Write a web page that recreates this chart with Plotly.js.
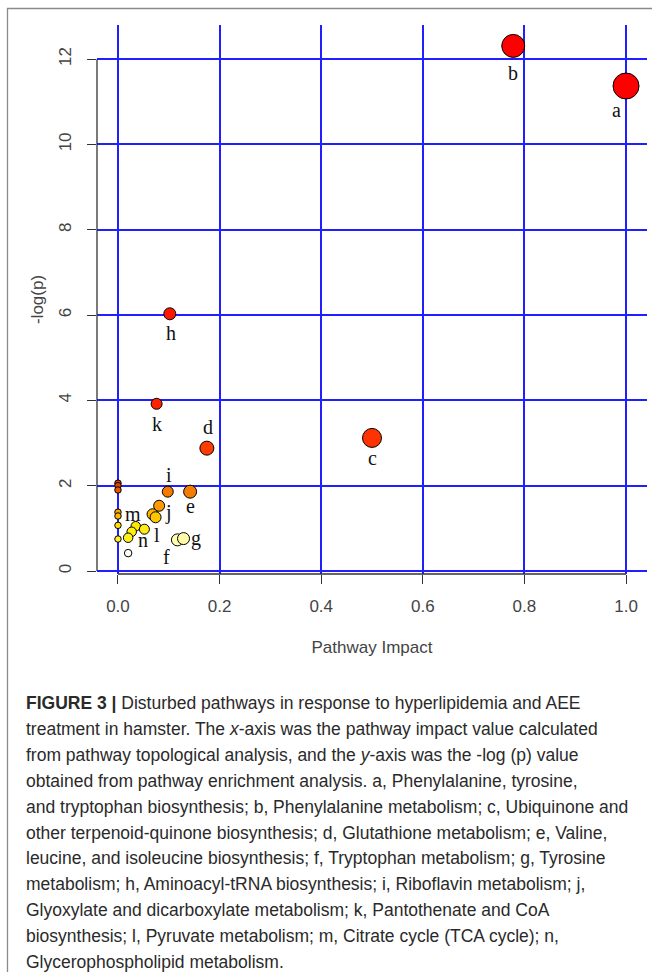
<!DOCTYPE html>
<html>
<head>
<meta charset="utf-8">
<script src="https://cdn.plot.ly/plotly-3.0.1.min.js"></script>
<style>
html, body { margin: 0; padding: 0; background: #ffffff; }
#chart { width: 652px; height: 972px; }
</style>
</head>
<body>
<div id="chart"></div>
<script>
// ---- data ----
const pathwayImpact = [1.000, 0.778, 0.102, 0.076, 0.500, 0.175, 0.000, 0.000, 0.000, 0.098, 0.142, 0.081, 0.000, 0.000, 0.068, 0.074, 0.000, 0.035, 0.052, 0.027, 0.020, 0.000, 0.117, 0.129, 0.020];
const negLogP      = [11.37, 12.31, 6.03, 3.92, 3.12, 2.88, 2.06, 2.00, 1.90, 1.86, 1.86, 1.53, 1.38, 1.29, 1.33, 1.26, 1.07, 1.05, 0.98, 0.92, 0.78, 0.75, 0.73, 0.76, 0.42];
const pointLabels  = ['a', 'b', 'h', 'k', 'c', 'd', '', '', '', 'i', 'e', 'j', 'm', '', '', 'l', '', '', 'n', '', '', '', 'f', 'g', ''];

const xTickVals = [0, 0.2, 0.4, 0.6, 0.8, 1.0];
const xTickText = ['0.0', '0.2', '0.4', '0.6', '0.8', '1.0'];
const yTickVals = [0, 2, 4, 6, 8, 10, 12];
const yTickText = ['0', '2', '4', '6', '8', '10', '12'];

const xTitle = 'Pathway Impact';
const yTitle = '-log(p)';

const captionLines = [
  '<b>FIGURE 3 |</b> Disturbed pathways in response to hyperlipidemia and AEE',
  'treatment in hamster. The <i>x</i>-axis was the pathway impact value calculated',
  'from pathway topological analysis, and the <i>y</i>-axis was the -log (p) value',
  'obtained from pathway enrichment analysis. a, Phenylalanine, tyrosine,',
  'and tryptophan biosynthesis; b, Phenylalanine metabolism; c, Ubiquinone and',
  'other terpenoid-quinone biosynthesis; d, Glutathione metabolism; e, Valine,',
  'leucine, and isoleucine biosynthesis; f, Tryptophan metabolism; g, Tyrosine',
  'metabolism; h, Aminoacyl-tRNA biosynthesis; i, Riboflavin metabolism; j,',
  'Glyoxylate and dicarboxylate metabolism; k, Pantothenate and CoA',
  'biosynthesis; l, Pyruvate metabolism; m, Citrate cycle (TCA cycle); n,',
  'Glycerophospholipid metabolism.'
];

// ---- styles ----
const markerSizes  = [26, 23, 12, 11, 19, 14, 6.5, 6.5, 6.5, 11, 13, 11, 6.5, 6.5, 11, 11, 6.5, 9.5, 10, 9.5, 9.5, 6.5, 12, 12, 7.5];
const markerColors = ['#ff0000', '#ff0000', '#ff1800', '#ff2200', '#ff3300', '#ff3c00', '#d84200', '#e04a00', '#e85400', '#f47a00', '#f47c00', '#ff9a00',
                      '#f8a800', '#ffb800', '#ffb400', '#ffc600', '#ffe000', '#ffe800', '#ffec10', '#ffee10', '#fff020', '#fff030', '#ffffb0', '#fffaa8', '#fffff2'];
const labelShift = {
  a: [-10, -24], b: [0, -27], c: [0, -20], d: [1, 21], e: [0, -14], h: [1, -19],
  i: [1, 17], j: [9, -7], k: [0, -20], l: [1, -18], m: [15, -2], n: [-1, -11],
  f: [-11, -17], g: [12, 0]
};

// plot frame in pixels
const W = 652, H = 972;
const plotL = 97, plotR = 647, plotT = 25, plotB = 574;
const pw = plotR - plotL, ph = plotB - plotT;
const px2paperX = p => (p - plotL) / pw;
const px2paperY = p => (plotB - p) / ph;

const trace = {
  type: 'scatter',
  mode: 'markers',
  x: pathwayImpact,
  y: negLogP,
  marker: {
    size: markerSizes,
    color: markerColors,
    line: { color: '#000000', width: 1 },
    opacity: 1
  },
  hoverinfo: 'x+y',
  showlegend: false,
  cliponaxis: false
};

const annotations = [];
pointLabels.forEach((lab, i) => {
  if (!lab) return;
  const s = labelShift[lab] || [0, 0];
  annotations.push({
    x: pathwayImpact[i], y: negLogP[i], xref: 'x', yref: 'y',
    text: lab, showarrow: false, xanchor: 'center', yanchor: 'middle',
    xshift: s[0], yshift: s[1],
    font: { family: 'Liberation Serif, Times New Roman, serif', size: 20, color: '#111111' }
  });
});

const capTop = 703, capStep = 25.9;
captionLines.forEach((line, i) => {
  annotations.push({
    x: px2paperX(24), y: px2paperY(capTop + i * capStep), xref: 'paper', yref: 'paper',
    text: line, showarrow: false, xanchor: 'left', yanchor: 'middle', align: 'left',
    font: { family: 'Liberation Sans, Arial, sans-serif', size: 17.5, color: '#2a2a2a' }
  });
});

const shapes = [
  // outer figure frame
  { type: 'rect', xref: 'paper', yref: 'paper',
    x0: px2paperX(7.5), x1: px2paperX(W + 20), y0: px2paperY(H + 20), y1: px2paperY(8.5),
    line: { color: '#8a8a8a', width: 1.3 }, fillcolor: 'rgba(0,0,0,0)', layer: 'below' },
  // R-style axis lines spanning the tick range
  { type: 'line', xref: 'paper', yref: 'y', x0: 0, x1: 0, y0: yTickVals[0], y1: yTickVals[yTickVals.length - 1],
    line: { color: '#333333', width: 1.3 }, layer: 'above' },
  { type: 'line', xref: 'x', yref: 'paper', x0: xTickVals[0], x1: xTickVals[xTickVals.length - 1], y0: 0, y1: 0,
    line: { color: '#333333', width: 1.3 }, layer: 'above' }
];

const tickFont = { family: 'Liberation Sans, Arial, sans-serif', size: 17, color: '#444444' };

const layout = {
  width: W, height: H,
  margin: { l: plotL, r: W - plotR, t: plotT, b: H - plotB, pad: 0 },
  paper_bgcolor: '#ffffff',
  plot_bgcolor: '#ffffff',
  showlegend: false,
  xaxis: {
    range: [-0.0413, 1.0413],
    tickmode: 'array', tickvals: xTickVals, ticktext: xTickText,
    ticks: 'outside', ticklen: 9, tickwidth: 1.3, tickcolor: '#333333',
    ticklabelstandoff: 8,
    showgrid: true, gridcolor: '#1f1fff', gridwidth: 1.6,
    zeroline: false, showline: false,
    tickfont: tickFont,
    title: { text: xTitle, font: tickFont, standoff: 25 },
    automargin: false
  },
  yaxis: {
    range: [-0.07, 12.8],
    tickmode: 'array', tickvals: yTickVals, ticktext: yTickText,
    ticks: 'outside', ticklen: 9, tickwidth: 1.3, tickcolor: '#333333',
    tickangle: -90, ticklabelstandoff: 9,
    showgrid: true, gridcolor: '#1f1fff', gridwidth: 1.6,
    zeroline: false, showline: false,
    tickfont: tickFont,
    title: { text: yTitle, font: tickFont, standoff: 8 },
    automargin: false
  },
  annotations: annotations,
  shapes: shapes
};

Plotly.newPlot('chart', [trace], layout, { displayModeBar: false, staticPlot: false, responsive: false });
</script>
</body>
</html>
